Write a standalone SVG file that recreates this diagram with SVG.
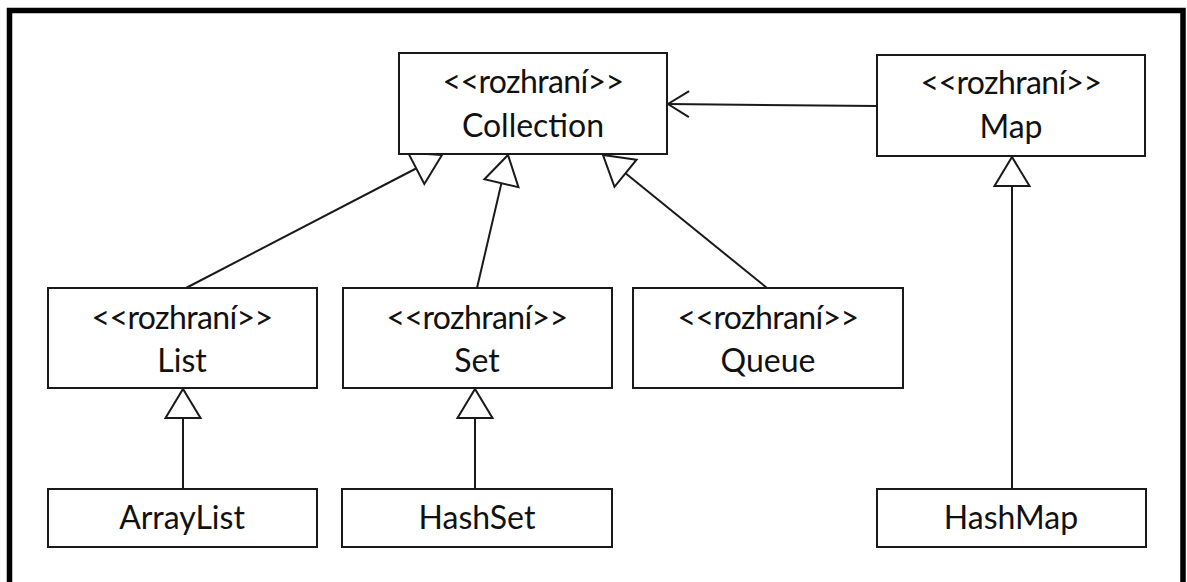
<svg xmlns="http://www.w3.org/2000/svg" width="1187" height="582" viewBox="0 0 1187 582">
  <style>
    .box { fill: #ffffff; stroke: #1a1a1a; stroke-width: 2; }
    .lbl { font-family: Lato, "Liberation Sans", sans-serif; font-size: 32px; fill: #111111; text-anchor: middle; }
    .stereo { letter-spacing: -0.6px; }
    .edge { fill: none; stroke: #1a1a1a; stroke-width: 2; }
    .gen { marker-end: url(#hollowTri); }
    .dep { marker-end: url(#openArrow); }
  </style>
  <defs>
    <!-- hollow triangle for generalization -->
    <marker id="hollowTri" markerUnits="userSpaceOnUse" markerWidth="34" markerHeight="40" viewBox="-2 -20 34 40" refX="29" refY="0" orient="auto">
      <path d="M0,-17.5 L29,0 L0,17.5 Z" fill="#ffffff" stroke="#1a1a1a" stroke-width="2" stroke-linejoin="miter"/>
    </marker>
    <!-- open arrowhead -->
    <marker id="openArrow" markerUnits="userSpaceOnUse" markerWidth="26" markerHeight="32" viewBox="-2 -16 26 32" refX="21" refY="0" orient="auto">
      <path d="M0,-13 L21,0 L0,13" fill="none" stroke="#1a1a1a" stroke-width="2"/>
    </marker>
  </defs>

  <rect width="1187" height="582" fill="#ffffff"/>

  <!-- outer frame (open at the bottom) -->
  <path d="M9.5,582 V10.5 H1183 V582" fill="none" stroke="#000000" stroke-width="5.5"/>

  <g id="connectors">
    <line class="edge dep" x1="877" y1="106" x2="668" y2="104"/>
    <line class="edge gen" x1="186" y1="288" x2="442" y2="155"/>
    <line class="edge gen" x1="477" y1="288" x2="508" y2="155"/>
    <line class="edge gen" x1="767" y1="288" x2="603" y2="155"/>
    <line class="edge gen" x1="183" y1="489" x2="183" y2="389"/>
    <line class="edge gen" x1="475" y1="489" x2="475" y2="389"/>
    <line class="edge gen" x1="1012" y1="489" x2="1012" y2="157"/>
  </g>

  <g id="collection">
    <rect class="box" x="399" y="53" width="268" height="101"/>
    <text class="lbl stereo" x="533" y="93">&lt;&lt;rozhraní&gt;&gt;</text>
    <text class="lbl" x="533" y="137">Collection</text>
  </g>

  <g id="map">
    <rect class="box" x="877" y="55" width="268" height="101"/>
    <text class="lbl stereo" x="1011" y="94">&lt;&lt;rozhraní&gt;&gt;</text>
    <text class="lbl" x="1011" y="138">Map</text>
  </g>

  <g id="list">
    <rect class="box" x="48" y="288" width="269" height="100"/>
    <text class="lbl stereo" x="182" y="329">&lt;&lt;rozhraní&gt;&gt;</text>
    <text class="lbl" x="182" y="372">List</text>
  </g>

  <g id="set">
    <rect class="box" x="343" y="288" width="269" height="100"/>
    <text class="lbl stereo" x="477" y="329">&lt;&lt;rozhraní&gt;&gt;</text>
    <text class="lbl" x="477" y="372">Set</text>
  </g>

  <g id="queue">
    <rect class="box" x="633" y="288" width="270" height="100"/>
    <text class="lbl stereo" x="768" y="329">&lt;&lt;rozhraní&gt;&gt;</text>
    <text class="lbl" x="768" y="372">Queue</text>
  </g>

  <g id="arraylist">
    <rect class="box" x="48" y="489" width="269" height="58"/>
    <text class="lbl" x="182" y="529">ArrayList</text>
  </g>

  <g id="hashset">
    <rect class="box" x="342" y="489" width="270" height="58"/>
    <text class="lbl" x="477" y="529">HashSet</text>
  </g>

  <g id="hashmap">
    <rect class="box" x="877" y="489" width="269" height="58"/>
    <text class="lbl" x="1011" y="529">HashMap</text>
  </g>
</svg>
